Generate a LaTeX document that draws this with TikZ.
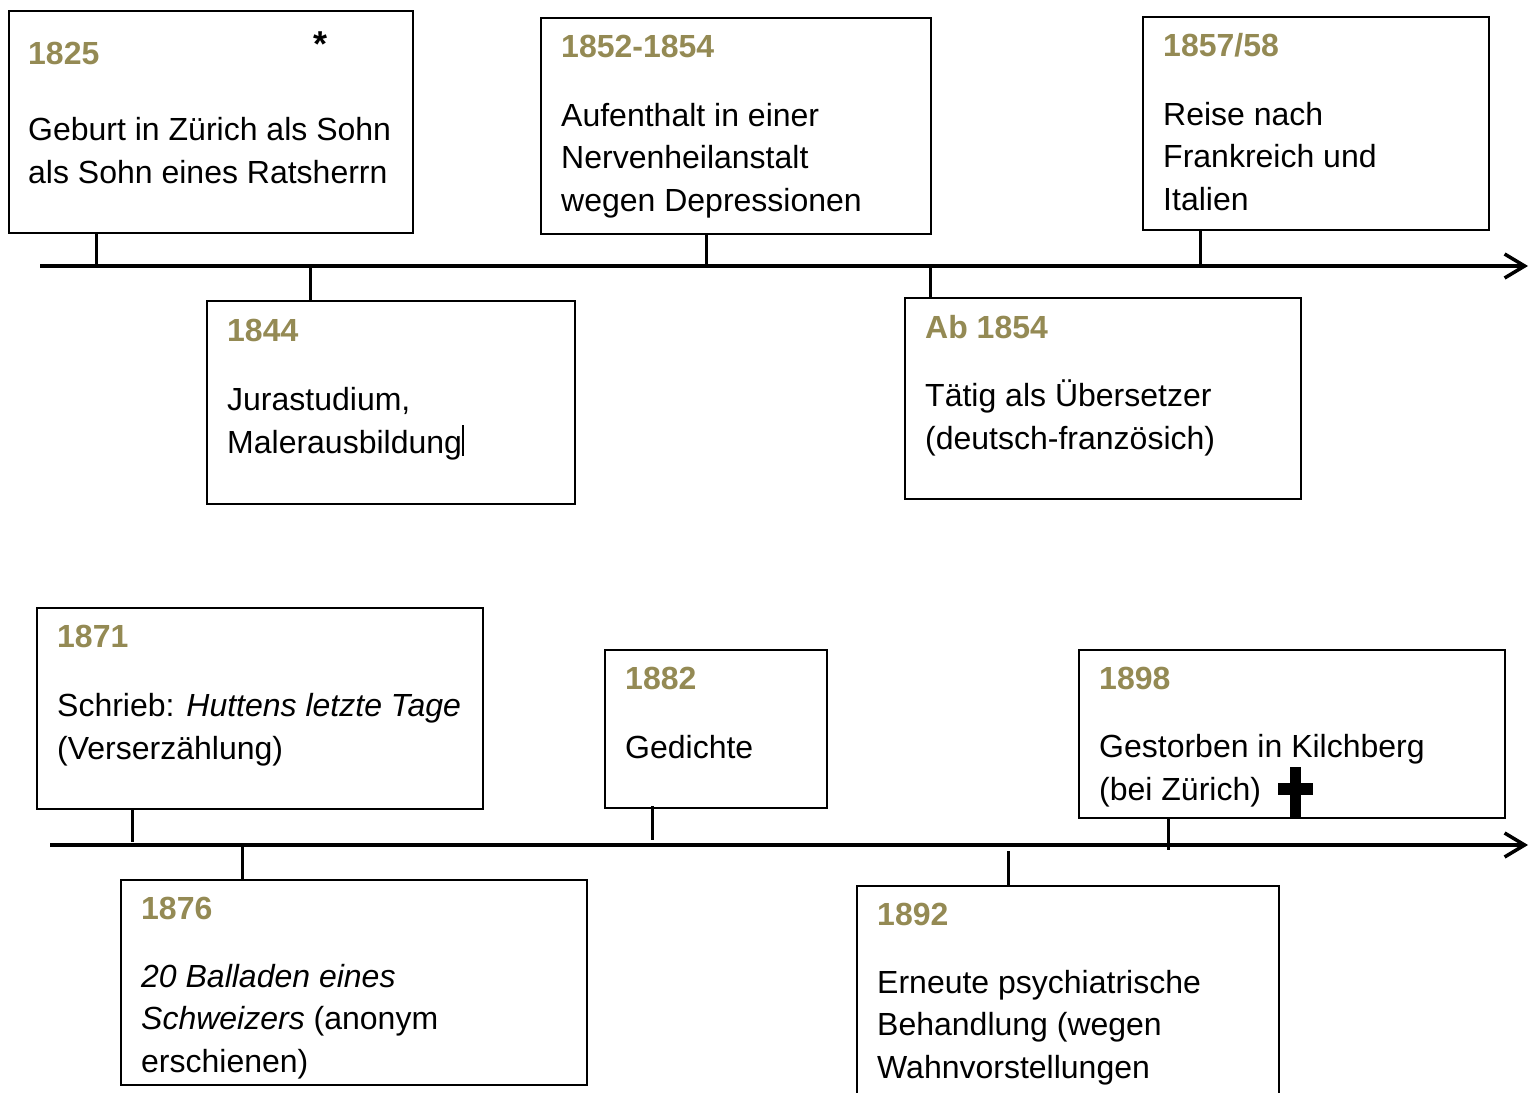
\documentclass[tikz,border=0pt]{standalone}
\usepackage{fontspec}
\setmainfont{Liberation Sans}
\usepackage{tikz}
\usetikzlibrary{arrows.meta}
\definecolor{jahrfarbe}{RGB}{148,138,84}

\begin{document}
\begin{tikzpicture}[x=1pt, y=-1pt,
    kasten/.style={draw, line width=1.5pt, anchor=north west, inner sep=0pt},
    jahr/.style={anchor=base west, inner sep=0pt, text=jahrfarbe, font=\bfseries\fontsize{32}{42}\selectfont},
    eintrag/.style={anchor=base west, inner sep=0pt, align=left, font=\fontsize{32}{42.5}\selectfont},
    achse/.style={line width=3.5pt, -{Straight Barb[length=20pt, width=24pt, line width=3.5pt]}},
    strich/.style={line width=3pt}]
        \useasboundingbox (0,0) rectangle (1538,1092);
        \clip (0,0) rectangle (1538,1092);

        % Obere Zeitleiste
        \coordinate (a1) at (40,266);
        \coordinate (a2) at (1528,266);
        \draw[achse] (a1) -- (a2);

        % (Anker der Texte: Grundlinie der letzten Zeile)
        \node[kasten, minimum width=404, minimum height=222] (k1825) at (8,10) {};
        \node[jahr] (j1825) at (28,64) {1825};
        \node[eintrag] (e1825) at (28,183) {Geburt in Zürich als Sohn\\als Sohn eines Ratsherrn};
        \node[anchor=base, inner sep=0pt, font=\bfseries\fontsize{36}{40}\selectfont] (stern) at (320,56) {*};

        \node[kasten, minimum width=368, minimum height=203] (k1844) at (206,300) {};
        \node[jahr] (j1844) at (227,341) {1844};
        \node[eintrag] (e1844) at (227,453) {Jurastudium,\\Malerausbildung};
        \coordinate (c1844a) at (463,425);
        \coordinate (c1844b) at (463,456);
        \draw[line width=2pt] (c1844a) -- (c1844b);

        \node[kasten, minimum width=390, minimum height=216] (k1852) at (540,17) {};
        \node[jahr] (j1852) at (561,57) {1852-1854};
        \node[eintrag] (e1852) at (561,211) {Aufenthalt in einer\\Nervenheilanstalt\\wegen Depressionen};

        \node[kasten, minimum width=396, minimum height=201] (k1854) at (904,297) {};
        \node[jahr] (j1854) at (925,338) {Ab 1854};
        \node[eintrag] (e1854) at (925,449) {Tätig als Übersetzer\\(deutsch-französich)};

        \node[kasten, minimum width=346, minimum height=213] (k1857) at (1142,16) {};
        \node[jahr] (j1857) at (1163,56) {1857/58};
        \node[eintrag] (e1857) at (1163,210) {Reise nach\\Frankreich und\\Italien};

        % Striche oben
        \coordinate (s1825) at (96,266);
        \coordinate (s1844) at (310,266);
        \coordinate (s1852) at (706,266);
        \coordinate (s1854) at (930,266);
        \coordinate (s1857) at (1200,266);
        \draw[strich] (k1825.south -| s1825) -- (s1825);
        \draw[strich] (s1844) -- (k1844.north -| s1844);
        \draw[strich] (k1852.south -| s1852) -- (s1852);
        \draw[strich] (s1854) -- (k1854.north -| s1854);
        \draw[strich] (k1857.south -| s1857) -- (s1857);

        % Untere Zeitleiste
        \coordinate (b1) at (50,845);
        \coordinate (b2) at (1528,845);
        \draw[achse] (b1) -- (b2);

        \node[kasten, minimum width=446, minimum height=201] (k1871) at (36,607) {};
        \node[jahr] (j1871) at (57,647) {1871};
        \node[eintrag] (e1871) at (57,759) {Schrieb: \textit{Huttens letzte Tage}\\(Verserzählung)};

        \node[kasten, minimum width=466, minimum height=205] (k1876) at (120,879) {};
        \node[jahr] (j1876) at (141,919) {1876};
        \node[eintrag] (e1876) at (141,1072) {\textit{20 Balladen eines}\\\textit{Schweizers} (anonym\\erschienen)};

        \node[kasten, minimum width=222, minimum height=158] (k1882) at (604,649) {};
        \node[jahr] (j1882) at (625,689) {1882};
        \node[eintrag] (e1882) at (625,758) {Gedichte};

        \node[kasten, minimum width=422, minimum height=240] (k1892) at (856,885) {};
        \node[jahr] (j1892) at (877,925) {1892};
        \node[eintrag] (e1892) at (877,1078) {Erneute psychiatrische\\Behandlung (wegen\\Wahnvorstellungen};

        \node[kasten, minimum width=426, minimum height=168] (k1898) at (1078,649) {};
        \node[jahr] (j1898) at (1099,689) {1898};
        \node[eintrag] (e1898) at (1099,800) {Gestorben in Kilchberg\\(bei Zürich)};
        % Kreuz
        \fill (1290,767) rectangle (1301,817);
        \fill (1278,783) rectangle (1313,795);

        % Striche unten
        \coordinate (s1871) at (132,842);
        \coordinate (s1876) at (242,845);
        \coordinate (s1882a) at (652,806);
        \coordinate (s1882) at (652,840);
        \coordinate (s1892) at (1008,851);
        \coordinate (s1898) at (1168,850);
        \draw[strich] (k1871.south -| s1871) -- (s1871);
        \draw[strich] (s1876) -- (k1876.north -| s1876);
        \draw[strich] (s1882a) -- (s1882);
        \draw[strich] (s1892) -- (k1892.north -| s1892);
        \draw[strich] (k1898.south -| s1898) -- (s1898);
\end{tikzpicture}
\end{document}
